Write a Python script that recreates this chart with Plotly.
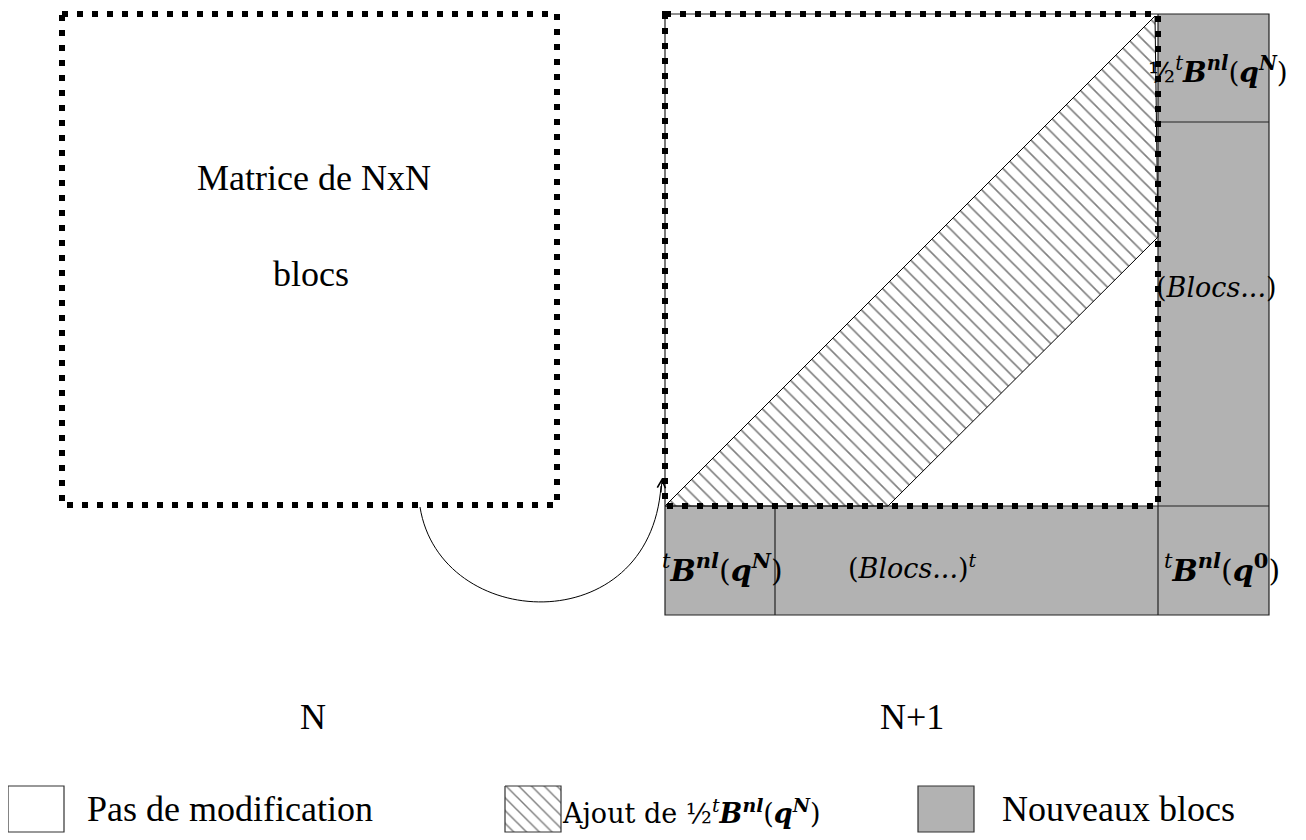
import plotly.graph_objects as go

W, H = 1306, 840
OFF = 8  # default page body margin
GRAY = "#b2b2b2"
SERIF = "Liberation Serif"
MATH = "DejaVu Serif"

# ---- text content ----
main_text = ["Matrice de NxN", "blocs"]
panel_labels = ["N", "N+1"]
legend_labels = ["Pas de modification", "Ajout de ", "Nouveaux blocs"]
superscripts = ["<i>N</i>", "0"]


def bnl(exp):
    return ("<sup><i>t</i></sup><b><i>B</i></b><sup><b><i>nl</i></b></sup>"
            f"(<b><i>q</i></b><sup><b>{exp}</b></sup>)")


# ---- geometry (pixel space of the page) ----
left_sq = (62, 14, 557, 505)          # x0, y0, x1, y1 dotted square N
right_sq = (665, 14, 1158, 506)       # dotted square inside N+1
col_x = [665, 775, 1158, 1269]        # block column edges of N+1 matrix
row_y = [14, 122, 506, 615]           # block row edges of N+1 matrix
band_x = [665, 1155, 1158, 888, 665]  # hatched diagonal band
band_y = [506, 16, 237, 506, 506]

fig = go.Figure()

shapes = []
# gray new blocks
shapes.append(dict(type="rect", x0=col_x[2], x1=col_x[3], y0=row_y[0], y1=row_y[3],
                   fillcolor=GRAY, line=dict(width=0), layer="below"))
shapes.append(dict(type="rect", x0=col_x[0], x1=col_x[2], y0=row_y[2], y1=row_y[3],
                   fillcolor=GRAY, line=dict(width=0), layer="below"))

# hatched band
fig.add_trace(go.Scatter(
    x=band_x, y=band_y, mode="lines", fill="toself",
    fillcolor="white",
    fillpattern=dict(shape="\\", size=10, solidity=0.16, fgcolor="black", bgcolor="white"),
    line=dict(color="black", width=1), hoverinfo="skip", showlegend=False))

# thin solid borders of N+1 matrix
thin = dict(color="#222", width=1.2)
shapes.append(dict(type="rect", x0=col_x[0], x1=col_x[3], y0=row_y[0], y1=row_y[3], line=thin))
shapes.append(dict(type="line", x0=col_x[2], x1=col_x[3], y0=row_y[1], y1=row_y[1], line=thin))
shapes.append(dict(type="line", x0=col_x[0], x1=col_x[3], y0=row_y[2], y1=row_y[2], line=thin))
shapes.append(dict(type="line", x0=col_x[1], x1=col_x[1], y0=row_y[2], y1=row_y[3], line=thin))
shapes.append(dict(type="line", x0=col_x[2], x1=col_x[2], y0=row_y[0], y1=row_y[3], line=thin))

# dotted squares
dots = dict(color="black", width=6, dash="6px,9px")
for sq in (left_sq, right_sq):
    shapes.append(dict(type="rect", x0=sq[0], y0=sq[1], x1=sq[2], y1=sq[3], line=dots))

# arc arrow
shapes.append(dict(type="path", path="M 420,507 C 440,632 650,642 661,486",
                   line=dict(color="black", width=1)))

# legend boxes
leg_box_x = [8, 505, 918]
leg_box_w = 56
leg_y0, leg_y1 = 786, 832
shapes.append(dict(type="rect", x0=leg_box_x[0], x1=leg_box_x[0] + leg_box_w, y0=leg_y0, y1=leg_y1,
                   fillcolor="white", line=dict(color="#333", width=1.2)))
shapes.append(dict(type="rect", x0=leg_box_x[2], x1=leg_box_x[2] + leg_box_w, y0=leg_y0, y1=leg_y1,
                   fillcolor=GRAY, line=dict(color="#333", width=1.2)))
fig.add_trace(go.Scatter(
    x=[leg_box_x[1], leg_box_x[1] + leg_box_w, leg_box_x[1] + leg_box_w, leg_box_x[1], leg_box_x[1]],
    y=[leg_y0, leg_y0, leg_y1, leg_y1, leg_y0], mode="lines", fill="toself",
    fillpattern=dict(shape="\\", size=9, solidity=0.16, fgcolor="black", bgcolor="white"),
    line=dict(color="#333", width=1.2), hoverinfo="skip", showlegend=False))

ann = []


def txt(x, y, text, size, family=SERIF, xanchor="center"):
    ann.append(dict(x=x, y=y, text=text, showarrow=False, xanchor=xanchor, yanchor="middle",
                    font=dict(family=family, size=size, color="black")))


txt(314, 178, main_text[0], 36)
txt(311, 274, main_text[1], 36)
txt(313, 717, panel_labels[0], 36)
txt(912, 717, panel_labels[1], 36)

txt(1146, 70, "½" + bnl(superscripts[0]), 28, MATH, "left")
txt(1216, 287, "(<i>Blocs...</i>)", 27, MATH)
txt(722, 568, bnl(superscripts[0]), 30, MATH)
txt(912, 566, "(<i>Blocs...</i>)<sup><i>t</i></sup>", 27, MATH)
txt(1222, 568, bnl(superscripts[1]), 30, MATH)

txt(85, 809, legend_labels[0], 36, SERIF, "left")
txt(560, 811, legend_labels[1] + "½" + bnl(superscripts[0]), 27, MATH, "left")
txt(1000, 809, legend_labels[2], 36, SERIF, "left")

# arrowhead
ann.append(dict(x=662, y=478, ax=661, ay=494, xref="x", yref="y", axref="x", ayref="y",
                showarrow=True, arrowhead=5, arrowsize=1.6, arrowwidth=1, arrowcolor="black", text=""))

fig.update_layout(
    width=W - OFF, height=H - OFF, margin=dict(l=0, r=0, t=0, b=0),
    paper_bgcolor="white", plot_bgcolor="white",
    xaxis=dict(range=[OFF, W], visible=False, fixedrange=True),
    yaxis=dict(range=[H, OFF], visible=False, fixedrange=True),
    shapes=shapes, annotations=ann, showlegend=False,
)
fig.write_html("out.html", config={"displayModeBar": False})
